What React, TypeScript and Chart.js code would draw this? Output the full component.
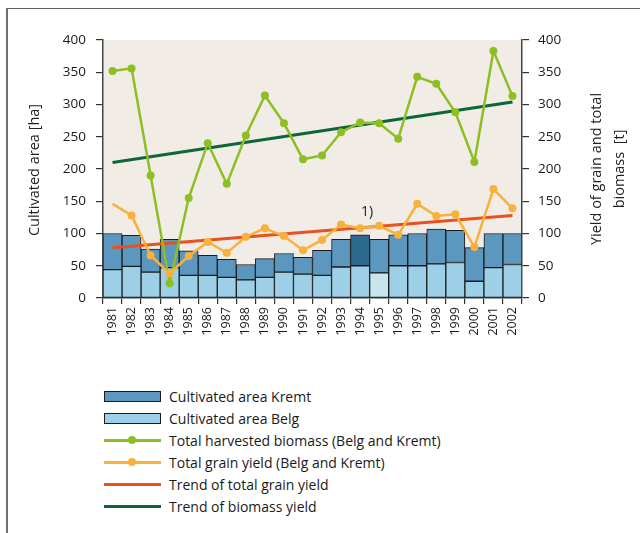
import React, { useEffect, useRef } from "react";
import { Chart, registerables } from "chart.js";

Chart.register(...registerables);

const years = ["1981","1982","1983","1984","1985","1986","1987","1988","1989","1990","1991","1992","1993","1994","1995","1996","1997","1998","1999","2000","2001","2002"];
const areaBelg = [44, 49, 40, 47, 35, 35, 32, 28, 32, 40, 37, 35, 48, 50, 39, 50, 50, 53, 55, 26, 47, 52];
const areaKremt = [56, 48, 36, 44, 38, 31, 28, 24, 29, 29, 26, 39, 43, 48, 52, 48, 50, 54, 50, 52, 53, 48];
const biomass = [352, 356, 190, 23, 155, 240, 177, 252, 314, 271, 215, 221, 257, 272, 271, 247, 343, 332, 288, 211, 383, 313];
const grain = [146, 128, 66, 38, 65, 87, 70, 95, 108, 96, 74, 90, 114, 108, 112, 98, 146, 127, 130, 79, 169, 139];
const trendGrainEnds = [78, 128];
const trendBiomassEnds = [210, 304];
const tickValues = [0, 50, 100, 150, 200, 250, 300, 350, 400];
const noteLabel = "1)";
const noteYear = "1994";
const noteValue = 133;

const FONT = "'Open Sans', 'Noto Sans', sans-serif";
const C_KREMT = "#5b97bf";
const C_KREMT_HI = "#2e6a8f";
const C_BELG = "#9dcfe6";
const C_BELG_HI = "#c8e5ee";
const C_BIO = "#8dbf22";
const C_GRAIN = "#f8b13a";
const C_TGRAIN = "#e8521f";
const C_TBIO = "#0c6638";

function endsSeries(ends: number[]) {
  return years.map((_, i) => (i === 0 ? ends[0] : i === years.length - 1 ? ends[1] : null));
}

const legendItems = [
  { label: "Cultivated area Kremt", type: "box", color: C_KREMT },
  { label: "Cultivated area Belg", type: "box", color: C_BELG },
  { label: "Total harvested biomass (Belg and Kremt)", type: "dot", color: C_BIO },
  { label: "Total grain yield (Belg and Kremt)", type: "dot", color: C_GRAIN },
  { label: "Trend of total grain yield", type: "line", color: C_TGRAIN },
  { label: "Trend of biomass yield", type: "line", color: C_TBIO },
];

export default function App() {
  const ref = useRef<HTMLCanvasElement>(null);
  useEffect(() => {
    if (!ref.current) return;
    const bgPlugin = {
      id: "bg",
      beforeDraw(chart: any) {
        const { ctx, chartArea } = chart;
        ctx.save();
        ctx.fillStyle = "#f1ece5";
        ctx.fillRect(chartArea.left, chartArea.top, chartArea.right - chartArea.left, chartArea.bottom - chartArea.top);
        ctx.restore();
      },
      afterDraw(chart: any) {
        const { ctx, chartArea, scales } = chart;
        const cy = (chartArea.top + chartArea.bottom) / 2;
        ctx.save();
        ctx.fillStyle = "#222";
        ctx.font = `14.5px ${FONT}`;
        ctx.textAlign = "center";
        ctx.textBaseline = "middle";
        ctx.translate(35, cy + 1);
        ctx.rotate(-Math.PI / 2);
        ctx.fillText("Cultivated area [ha]", 0, 0);
        ctx.restore();
        ctx.save();
        ctx.fillStyle = "#222";
        ctx.font = `14.5px ${FONT}`;
        ctx.textAlign = "center";
        ctx.textBaseline = "middle";
        ctx.translate(597, cy);
        ctx.rotate(-Math.PI / 2);
        ctx.fillText("Yield of grain and total", 0, 0);
        ctx.fillText("biomass  [t]", 0, 23);
        ctx.restore();
        ctx.save();
        ctx.fillStyle = "#222";
        ctx.font = `14px ${FONT}`;
        ctx.textAlign = "left";
        ctx.textBaseline = "middle";
        const xi = years.indexOf(noteYear);
        ctx.fillText(noteLabel, scales.x.getPixelForValue(xi) + 1, scales.y.getPixelForValue(noteValue));
        ctx.restore();
      },
    };
    const chart = new Chart(ref.current, {
      type: "bar",
      data: {
        labels: years,
        datasets: [
          {
            type: "line",
            label: "Trend of biomass yield",
            data: endsSeries(trendBiomassEnds),
            borderColor: C_TBIO,
            borderWidth: 3,
            pointRadius: 0,
            spanGaps: true,
            yAxisID: "y2",
            order: 3,
          },
          {
            type: "line",
            label: "Trend of total grain yield",
            data: endsSeries(trendGrainEnds),
            borderColor: C_TGRAIN,
            borderWidth: 3,
            pointRadius: 0,
            spanGaps: true,
            yAxisID: "y2",
            order: 2,
          },
          {
            type: "line",
            label: "Total harvested biomass (Belg and Kremt)",
            data: biomass,
            borderColor: C_BIO,
            backgroundColor: C_BIO,
            borderWidth: 2.5,
            pointRadius: 4,
            pointBorderWidth: 0,
            yAxisID: "y2",
            order: 1,
          },
          {
            type: "line",
            label: "Total grain yield (Belg and Kremt)",
            data: grain,
            borderColor: C_GRAIN,
            backgroundColor: C_GRAIN,
            borderWidth: 2.5,
            pointRadius: years.map((_, i) => (i === 0 ? 0 : 4)),
            pointBorderWidth: 0,
            yAxisID: "y2",
            order: 0,
          },
          {
            label: "Cultivated area Belg",
            data: areaBelg,
            backgroundColor: years.map((_, i) => (i === 14 ? C_BELG_HI : C_BELG)),
            borderColor: "#1b1b1b",
            borderWidth: 1,
            borderSkipped: false,
            barPercentage: 1,
            categoryPercentage: 1,
            stack: "a",
            yAxisID: "y",
            order: 10,
          },
          {
            label: "Cultivated area Kremt",
            data: areaKremt,
            backgroundColor: years.map((_, i) => (i === 13 ? C_KREMT_HI : C_KREMT)),
            borderColor: "#1b1b1b",
            borderWidth: 1,
            borderSkipped: false,
            barPercentage: 1,
            categoryPercentage: 1,
            stack: "a",
            yAxisID: "y",
            order: 11,
          },
        ],
      } as any,
      options: {
        animation: false,
        responsive: false,
        devicePixelRatio: 1,
        layout: { padding: { top: 40, left: 0, right: 0, bottom: 0 } },
        plugins: { legend: { display: false }, tooltip: { enabled: false } },
        scales: {
          x: {
            stacked: true,
            offset: true,
            grid: { display: true, drawOnChartArea: false, offset: true, tickLength: 6, color: "#333", lineWidth: 1.2 },
            border: { display: true, color: "#444", width: 1.5 },
            ticks: {
              minRotation: 90,
              maxRotation: 90,
              autoSkip: false,
              padding: 3,
              color: "#1a1a1a",
              font: { family: FONT, size: 12.5 },
            },
            afterFit(scale: any) {
              scale.height = 360 - 298;
            },
          },
          y: {
            position: "left",
            stacked: true,
            min: 0,
            max: 400,
            afterBuildTicks(scale: any) {
              scale.ticks = tickValues.map((v) => ({ value: v }));
            },
            grid: { drawOnChartArea: false, tickLength: 7, color: "#333", lineWidth: 1.2 },
            border: { display: true, color: "#444", width: 1.5 },
            ticks: { padding: 10, color: "#1a1a1a", font: { family: FONT, size: 13.5 } },
            afterFit(scale: any) {
              scale.width = 103;
            },
          },
          y2: {
            position: "right",
            min: 0,
            max: 400,
            afterBuildTicks(scale: any) {
              scale.ticks = tickValues.map((v) => ({ value: v }));
            },
            grid: { drawOnChartArea: false, tickLength: 7, color: "#333", lineWidth: 1.2 },
            border: { display: true, color: "#444", width: 1.5 },
            ticks: { padding: 9, color: "#1a1a1a", font: { family: FONT, size: 13.5 } },
            afterFit(scale: any) {
              scale.width = 640 - 522;
            },
          },
        },
      } as any,
      plugins: [bgPlugin],
    });
    return () => chart.destroy();
  }, []);

  return (
    <div style={{ position: "absolute", left: 0, top: 0, width: 640, height: 533, background: "#fff", overflow: "hidden", fontFamily: FONT }}>
      <div style={{ position: "absolute", left: 6, top: 8, width: 700, height: 600, borderLeft: "2px solid #707070", borderTop: "1px solid #606060" }} />
      <canvas ref={ref} width={640} height={360} style={{ position: "absolute", left: 0, top: 0, width: 640, height: 360 }} />
      <div style={{ position: "absolute", left: 104, top: 385 }}>
        {legendItems.map((it) => (
          <div key={it.label} style={{ display: "flex", alignItems: "center", height: 22, fontSize: 14, color: "#1a1a1a" }}>
            <div style={{ width: 57, height: 12, position: "relative", marginRight: 8 }}>
              {it.type === "box" && (
                <div style={{ position: "absolute", left: 0, top: 1, width: 55, height: 9, background: it.color, border: "1px solid #1b1b1b" }} />
              )}
              {it.type !== "box" && (
                <div style={{ position: "absolute", left: 0, top: 5, width: 57, height: 2.5, background: it.color }} />
              )}
              {it.type === "dot" && (
                <div style={{ position: "absolute", left: 24, top: 2, width: 8, height: 8, borderRadius: 4, background: it.color }} />
              )}
            </div>
            <span>{it.label}</span>
          </div>
        ))}
      </div>
    </div>
  );
}
